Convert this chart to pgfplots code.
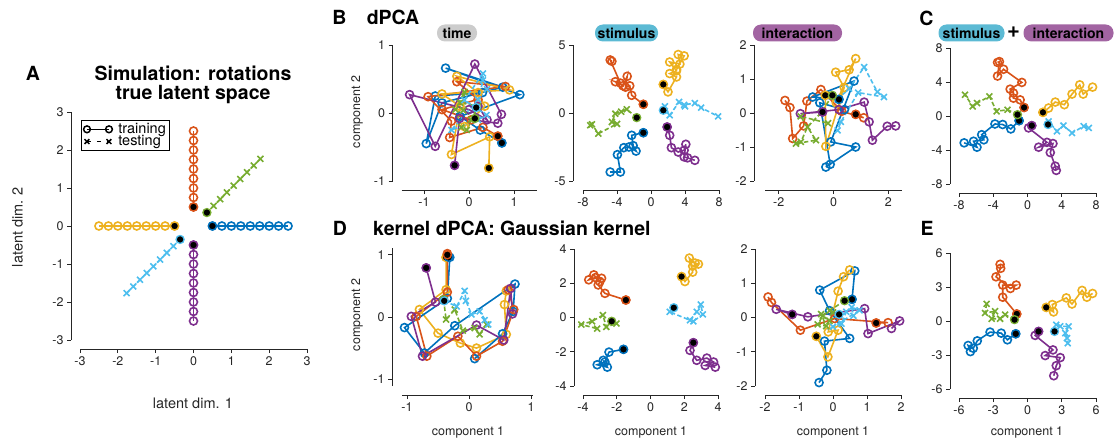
\documentclass[border=0pt]{standalone}
\usepackage{pgfplots}
\pgfplotsset{compat=1.18}
\usepackage{fontspec}
\setmainfont{TeX Gyre Heros}
\definecolor{cB}{RGB}{0,114,189}
\definecolor{cO}{RGB}{217,83,25}
\definecolor{cY}{RGB}{237,177,32}
\definecolor{cP}{RGB}{126,47,142}
\definecolor{cG}{RGB}{119,172,48}
\definecolor{cL}{RGB}{77,190,238}
\definecolor{axg}{RGB}{38,38,38}
\definecolor{boxT}{RGB}{204,204,204}
\definecolor{boxS}{RGB}{92,186,212}
\definecolor{boxI}{RGB}{162,100,162}
\pgfplotsset{
 base/.style={scale only axis, anchor=south west, axis lines=left,
   axis line style={-, line width=0.9pt, draw=axg},
   every outer x axis line/.append style={-}, every outer y axis line/.append style={-},
   tick align=outside, major tick length=4pt, tick style={line width=0.9pt, draw=axg},
   tick label style={font=\fontsize{12.5}{13}\selectfont, text=axg},
   /pgf/number format/assume math mode=true, clip=false,
   axis x line shift=9pt, axis y line shift=9pt},
 tr/.style={color=#1, line width=1.6pt, mark=o, mark size=4pt, mark options={solid}},
 te/.style={color=#1, line width=1.6pt, dash pattern=on 4.5pt off 2.5pt, mark=x, mark size=4.2pt, mark options={solid}},
 st/.style={only marks, mark=*, mark size=4pt, mark options={fill=black, draw=#1, line width=1.3pt, solid}},
 twoend/.style={legend image code/.code={\draw[##1, mark repeat=1] plot coordinates {(0pt,0pt) (22pt,0pt)};}},
}
\begin{document}
\begin{tikzpicture}[x=1pt,y=1pt]
\useasboundingbox (0,0) rectangle (1114,445);

% ---------------- Panel A ----------------
\begin{axis}[base, at={(80pt,105pt)}, width=227pt, height=228pt,
  xmin=-3, xmax=3, ymin=-3, ymax=3, xtick={-3,...,3}, ytick={-3,...,3},
  legend style={at={(axis cs:-2.97,2.79)}, anchor=north west, draw=black, line width=0.9pt,
    font=\fontsize{14.5}{13}\selectfont, inner sep=2pt, row sep=-1.5pt, legend cell align=left,
    nodes={inner xsep=2pt, inner ysep=1pt},
    /tikz/every odd column/.append style={column sep=4pt}}]
\addlegendimage{black, line width=1.5pt, mark=o, mark size=3.4pt, twoend}
\addlegendimage{black, line width=1.5pt, dash pattern=on 4pt off 6pt, mark=x, mark size=3.4pt, mark options={solid}, twoend}
\legend{training, testing}
\addplot[tr=cB] coordinates {(0.5,0) (0.75,0) (1,0) (1.25,0) (1.5,0) (1.75,0) (2,0) (2.25,0) (2.5,0)};
\addplot[tr=cO] coordinates {(0,0.5) (0,0.75) (0,1) (0,1.25) (0,1.5) (0,1.75) (0,2) (0,2.25) (0,2.5)};
\addplot[tr=cY] coordinates {(-0.5,0) (-0.75,0) (-1,0) (-1.25,0) (-1.5,0) (-1.75,0) (-2,0) (-2.25,0) (-2.5,0)};
\addplot[tr=cP] coordinates {(0,-0.5) (0,-0.75) (0,-1) (0,-1.25) (0,-1.5) (0,-1.75) (0,-2) (0,-2.25) (0,-2.5)};
\addplot[te=cG] coordinates {(0.354,0.354) (0.530,0.530) (0.707,0.707) (0.884,0.884) (1.061,1.061) (1.237,1.237) (1.414,1.414) (1.591,1.591) (1.768,1.768)};
\addplot[te=cL] coordinates {(-0.354,-0.354) (-0.530,-0.530) (-0.707,-0.707) (-0.884,-0.884) (-1.061,-1.061) (-1.237,-1.237) (-1.414,-1.414) (-1.591,-1.591) (-1.768,-1.768)};
\addplot[st=cB] coordinates {(0.5,0)};
\addplot[st=cO] coordinates {(0,0.5)};
\addplot[st=cY] coordinates {(-0.5,0)};
\addplot[st=cP] coordinates {(0,-0.5)};
\addplot[st=cG] coordinates {(0.354,0.354)};
\addplot[st=cL] coordinates {(-0.354,-0.354)};
\end{axis}

% ---------------- Panel B: time ----------------
\begin{axis}[base, at={(401.5pt,264pt)}, width=135pt, height=136pt,
  xmin=-1.5, xmax=1.5, ymin=-1, ymax=1, xtick={-1,0,1}, ytick={-1,0,1}]
\addplot[tr=cB] coordinates {(0.73,-0.44) (0.25,-0.25) (-0.2,-0.05) (1.13,0.27) (-0.52,0.66) (0.75,0.38) (-0.6,0.15) (-0.95,-0.45) (-0.75,0.25) (0.3,0.3)};
\addplot[tr=cO] coordinates {(0.64,-0.34) (0.31,-0.21) (-0.43,-0.36) (-0.39,-0.12) (-0.91,0.24) (0.81,0.39) (-0.27,0.46) (0.2,0.2) (-0.6,0.05) (0.05,-0.1)};
\addplot[tr=cY] coordinates {(0.44,-0.81) (0.46,-0.35) (-0.39,-0.61) (-0.2,0.1) (-0.6,0.28) (0.9,0.34) (-0.27,0.54) (0.2,0.3) (0.35,0.1) (-0.1,-0.2)};
\addplot[tr=cP] coordinates {(-0.32,-0.77) (-0.21,-0.08) (0.64,-0.15) (0.72,-0.02) (0.13,0.72) (-0.75,-0.49) (-1.32,0.27) (0.0,0.05) (0.4,-0.1) (0.2,0.1)};
\addplot[te=cG] coordinates {(0.13,-0.08) (-0.13,0.04) (-0.1,0.31) (-0.3,0.05) (-0.17,-0.21) (0.05,-0.1) (-0.05,-0.25) (0.2,0.1) (-0.2,0.15)};
\addplot[te=cL] coordinates {(0.16,0.08) (0.31,0.48) (0.31,0.58) (-0.1,0.19) (0.39,-0.03) (0.2,-0.1) (-0.39,-0.25) (0.2,0.2) (0.4,0.35)};
\addplot[st=cB] coordinates {(0.73,-0.44)};
\addplot[st=cO] coordinates {(0.64,-0.34)};
\addplot[st=cY] coordinates {(0.44,-0.81)};
\addplot[st=cP] coordinates {(-0.32,-0.77)};
\addplot[st=cG] coordinates {(0.13,-0.08)};
\addplot[st=cL] coordinates {(0.16,0.08)};
\end{axis}

% ---------------- Panel B: stimulus ----------------
\begin{axis}[base, at={(583pt,264pt)}, width=136pt, height=136pt, axis y line shift=10pt,
  xmin=-8, xmax=8, ymin=-5, ymax=5, xtick={-8,-4,0,4,8}, ytick={-5,0,5}]
\addplot[tr=cO] coordinates {(-0.9,0.64) (-2.27,1.3) (-2.5,2.0) (-3.0,1.9) (-2.8,2.7) (-3.3,2.0) (-4.2,2.3) (-3.6,2.2) (-4.8,3.9) (-4.6,3.8)};
\addplot[tr=cY] coordinates {(1.45,2.1) (2.0,1.55) (3.0,2.65) (2.2,2.9) (3.0,3.1) (2.2,3.75) (3.4,3.6) (3.2,4.3) (3.9,4.2) (3.0,3.2)};
\addplot[tr=cB] coordinates {(-0.9,-1.45) (-2.27,-1.64) (-2.1,-2.4) (-1.76,-2.8) (-2.6,-2.5) (-3.2,-2.55) (-3.95,-3.06) (-3.6,-4.34) (-4.8,-4.34)};
\addplot[tr=cP] coordinates {(1.9,-1.03) (2.2,-1.64) (2.4,-2.55) (3.2,-2.87) (3.9,-2.74) (4.1,-2.3) (3.9,-3.23) (4.3,-3.3) (5.16,-3.48)};
\addplot[te=cG] coordinates {(-1.68,-0.34) (-2.85,0.27) (-3.5,0.1) (-4.2,-0.05) (-4.6,-0.66) (-4.0,-0.8) (-6.2,-1.52) (-6.95,-0.83) (-7.15,-0.9)};
\addplot[te=cL] coordinates {(1.45,0.2) (1.64,0.49) (2.2,-0.17) (3.3,0.81) (4.0,0.49) (3.9,0.6) (5.16,0.73) (5.9,0.39) (7.9,-0.25)};
\addplot[st=cO] coordinates {(-0.9,0.64)};
\addplot[st=cY] coordinates {(1.45,2.1)};
\addplot[st=cB] coordinates {(-0.9,-1.45)};
\addplot[st=cP] coordinates {(1.9,-1.03)};
\addplot[st=cG] coordinates {(-1.68,-0.34)};
\addplot[st=cL] coordinates {(1.45,0.2)};
\end{axis}

% ---------------- Panel B: interaction ----------------
\begin{axis}[base, at={(765pt,264pt)}, width=137pt, height=136pt, axis y line shift=11pt,
  xmin=-2.5, xmax=2.5, ymin=-2, ymax=2, xtick={-2,0,2}, ytick={-2,-1,0,1,2}]
\addplot[tr=cO] coordinates {(0.81,-0.04) (1.1,-0.14) (0.3,0.05) (-0.46,0.69) (-0.97,0.35) (-1.09,-0.38) (-1.49,-0.75) (-1.59,0.16) (-1.77,0.37)};
\addplot[tr=cB] coordinates {(0.2,0.4) (-0.76,0.47) (0.75,0.94) (-0.1,-0.85) (0.81,-1.0) (-0.28,-1.59) (-0.12,-1.51) (-0.5,0.3) (0.4,0.1)};
\addplot[tr=cY] coordinates {(-0.3,0.52) (-0.28,-0.98) (0.39,0.75) (0.08,1.2) (0.57,1.27) (0.81,1.6) (0.1,0.3)};
\addplot[tr=cP] coordinates {(-0.4,0.03) (-1.21,-0.02) (0.2,0.1) (1.12,0.32) (1.3,-0.26) (1.42,-0.8) (1.96,-0.39) (2.27,-0.38)};
\addplot[te=cG] coordinates {(-0.04,0.52) (-0.46,0) (-0.95,-0.41) (-1.19,-0.85) (-1.37,-0.9) (-0.64,-0.8) (-1.2,-0.1) (-0.2,-0.3)};
\addplot[te=cL] coordinates {(0.15,0.4) (0.57,0.72) (1.12,1.35) (1.6,0.62) (1.84,0.47) (0.9,0.6) (0.27,-0.26) (0.15,-0.51)};
\addplot[st=cO] coordinates {(0.81,-0.04)};
\addplot[st=cB] coordinates {(0.2,0.4)};
\addplot[st=cY] coordinates {(-0.3,0.52)};
\addplot[st=cP] coordinates {(-0.4,0.03)};
\addplot[st=cG] coordinates {(-0.04,0.52)};
\end{axis}

% ---------------- Panel C ----------------
\begin{axis}[base, at={(959pt,261pt)}, width=137pt, height=136pt,
  xmin=-8, xmax=8, ymin=-8, ymax=8, xtick={-8,-4,0,4,8}, ytick={-8,-4,0,4,8}]
\addplot[tr=cO] coordinates {(-0.4,1.0) (-0.86,1.9) (-1.64,2.1) (-1.64,2.7) (-2.03,3.16) (-0.66,3.95) (-2.8,5.5) (-3.5,4.7) (-3.28,6.4) (-3.5,6.3)};
\addplot[tr=cY] coordinates {(1.8,0.43) (2.46,0.94) (3.24,1.64) (4.3,1.33) (5.2,2.58) (6.1,3.67) (6.5,2.58) (7.6,3.4)};
\addplot[tr=cB] coordinates {(-0.98,-0.55) (-1.95,-1.52) (-2.9,-1.0) (-3.8,-0.94) (-5.35,-2.2) (-5.1,-2.8) (-6.3,-2.97) (-5.9,-3.67) (-7.4,-3.16)};
\addplot[tr=cP] coordinates {(0.5,-1.13) (0.12,-1.4) (2.27,-3.1) (1.3,-3.67) (2.97,-3.24) (2.66,-4.3) (3.24,-5.9) (3.36,-6.4)};
\addplot[te=cG] coordinates {(-1.17,0.16) (-2.34,0.74) (-3.6,0.55) (-4.45,2.3) (-5.9,1.52) (-6.4,1.13) (-7.3,2.5)};
\addplot[te=cL] coordinates {(2.4,-1.0) (2.46,-0.63) (3.44,-1.8) (4.2,-1.13) (5.2,-2.0) (6.56,-1.2) (7.15,-1.4)};
\addplot[st=cO] coordinates {(-0.4,1.0)};
\addplot[st=cY] coordinates {(1.8,0.43)};
\addplot[st=cB] coordinates {(-0.98,-0.55)};
\addplot[st=cP] coordinates {(0.5,-1.13)};
\addplot[st=cG] coordinates {(-1.17,0.16)};
\addplot[st=cL] coordinates {(2.4,-1.0)};
\end{axis}

% ---------------- Panel D: time ----------------
\begin{axis}[base, at={(402pt,59pt)}, width=131pt, height=138pt, axis y line shift=10pt,
  xmin=-1.08, xmax=1.03, ymin=-1.11, ymax=1.11, xtick={-1,0,1}, ytick={-1,0,1}]
\addplot[tr=cY] coordinates {(-0.37,0.96) (-0.37,0.44) (-0.8,0.12) (-0.5,-0.26) (-0.14,-0.42) (0.12,-0.5) (0.6,-0.28) (0.57,0.2) (0.6,0.42)};
\addplot[tr=cB] coordinates {(-0.31,0.96) (-0.35,0.3) (-1.04,-0.17) (-0.72,-0.58) (-0.23,-0.14) (0.74,0.53) (0.71,0.09) (0.54,-0.27) (0.09,-0.67)};
\addplot[tr=cO] coordinates {(-0.35,1.02) (-0.35,0.4) (-0.85,0.01) (-0.68,-0.63) (-0.18,-0.31) (0.12,-0.63) (0.54,-0.39) (0.72,0.12) (0.63,0.44)};
\addplot[tr=cP] coordinates {(-0.69,0.79) (-0.54,0.24) (-0.93,0.01) (-0.75,-0.63) (0.12,-0.13) (0.56,-0.37) (0.67,0.46) (0.7,0.05)};
\addplot[te=cG] coordinates {(-0.41,0.28) (-0.37,-0.04) (-0.23,0.12) (-0.1,-0.22) (0.09,-0.18) (0.17,-0.28) (0.28,-0.12)};
\addplot[te=cL] coordinates {(-0.4,0.26) (-0.2,0.17) (-0.07,0.42) (-0.05,0.26) (0.04,0.04) (0.17,0.09) (0.31,-0.12) (0.25,-0.05)};
\addplot[st=cY] coordinates {(-0.37,0.96)};
\addplot[st=cB] coordinates {(-0.33,0.96)};
\addplot[st=cO] coordinates {(-0.35,1.0)};
\addplot[st=cP] coordinates {(-0.69,0.79)};
\addplot[st=cG] coordinates {(-0.41,0.28)};
\addplot[st=cL] coordinates {(-0.4,0.26)};
\end{axis}

% ---------------- Panel D: stimulus ----------------
\begin{axis}[base, at={(583pt,59pt)}, width=135pt, height=137pt,
  xmin=-4, xmax=4, ymin=-4, ymax=4, xtick={-4,-2,0,2,4}, ytick={-4,-2,0,2,4}]
\addplot[tr=cO] coordinates {(-1.46,1.02) (-2.7,1.41) (-3.1,1.9) (-2.9,2.29) (-3.26,2.33) (-3.66,2.2) (-3.36,2.49) (-3.0,2.1)};
\addplot[tr=cY] coordinates {(1.84,2.39) (2.04,2.1) (2.5,2.65) (2.3,3.47) (2.64,3.18) (2.84,3.12) (2.5,3.0)};
\addplot[tr=cB] coordinates {(-1.6,-1.86) (-2.46,-2.02) (-2.7,-2.6) (-3.16,-2.76) (-2.56,-2.9) (-2.8,-2.5)};
\addplot[tr=cP] coordinates {(2.54,-1.47) (2.34,-1.92) (2.74,-2.5) (3.34,-2.37) (3.74,-2.6) (3.24,-2.8) (3.84,-2.9)};
\addplot[te=cG] coordinates {(-2.3,-0.22) (-2.02,-0.35) (-2.62,-0.55) (-2.82,0.14) (-3.46,-0.22) (-4.1,-0.41) (-3.16,-0.65)};
\addplot[te=cL] coordinates {(1.38,0.57) (1.14,0.33) (2.34,-0.16) (2.74,0.33) (2.98,0.76) (3.1,0.18) (2.54,-0.22)};
\addplot[st=cO] coordinates {(-1.46,1.02)};
\addplot[st=cY] coordinates {(1.84,2.39)};
\addplot[st=cB] coordinates {(-1.6,-1.86)};
\addplot[st=cP] coordinates {(2.54,-1.47)};
\addplot[st=cG] coordinates {(-2.3,-0.22)};
\addplot[st=cL] coordinates {(1.38,0.57)};
\end{axis}

% ---------------- Panel D: interaction ----------------
\begin{axis}[base, at={(765pt,59pt)}, width=136pt, height=137pt, axis y line shift=10pt,
  xmin=-2, xmax=2, ymin=-2, ymax=2, xtick={-2,-1,0,1,2}, ytick={-2,-1,0,1,2}]
\addplot[tr=cB] coordinates {(0.56,0.53) (0.64,1.36) (-0.39,0.8) (-0.1,0.2) (0.49,-0.61) (-0.25,-0.69) (-0.18,-1.54) (-0.41,-1.9)};
\addplot[tr=cY] coordinates {(-0.49,-0.55) (-0.15,-1.15) (0.15,-0.37) (-0.14,-0.42) (0.15,0.77) (0.31,1.19) (0.49,1.39)};
\addplot[tr=cO] coordinates {(1.27,-0.16) (1.62,-0.15) (0.05,-0.03) (-0.96,-0.37) (-1.81,0.44) (-1.91,0.6)};
\addplot[tr=cP] coordinates {(-1.2,0.09) (-1.67,0.24) (-0.74,0.02) (0.93,0.26) (1.03,-0.47) (1.96,-0.1) (1.72,-0.32)};
\addplot[te=cG] coordinates {(0.34,0.49) (-0.1,0.2) (-0.3,0.05) (-0.45,-0.2) (-0.2,-0.25) (-0.35,0.1) (-0.1,-0.1) (0.0,0.15)};
\addplot[te=cL] coordinates {(0.18,0.09) (0.39,0.17) (0.25,-0.18) (0,-0.27) (0.78,0.21) (0.55,0.3) (0.6,0.05)};
\addplot[st=cB] coordinates {(0.56,0.53)};
\addplot[st=cY] coordinates {(-0.49,-0.55)};
\addplot[st=cO] coordinates {(1.27,-0.16)};
\addplot[st=cP] coordinates {(-1.2,0.09)};
\addplot[st=cG] coordinates {(0.34,0.49)};
\addplot[st=cL] coordinates {(0.18,0.09)};
\end{axis}

% ---------------- Panel E ----------------
\begin{axis}[base, at={(959pt,56pt)}, width=137pt, height=136pt,
  xmin=-6, xmax=6, ymin=-6, ymax=6, xtick={-6,-3,0,3,6}, ytick={-6,-3,0,3,6}]
\addplot[tr=cO] coordinates {(-0.94,0.62) (-2.17,2.1) (-2.17,3.17) (-0.99,3.17) (-1.5,2.87) (-2.76,3.9) (-2.35,4.65) (-2.4,5.0)};
\addplot[tr=cY] coordinates {(1.64,1.2) (2.28,0.8) (2.17,1.45) (3.4,2.04) (3.9,1.5) (4.78,2.7) (5.2,2.1) (5.7,2.43)};
\addplot[tr=cB] coordinates {(-1.03,-1.13) (-1.76,-1.66) (-2.3,-1.07) (-3.28,-0.98) (-4.4,-1.75) (-4.75,-2.4) (-5.2,-2.16) (-5.0,-2.7)};
\addplot[tr=cP] coordinates {(0.97,-0.92) (0.67,-1.27) (2.23,-2.55) (1.55,-3.05) (2.87,-3.23) (2.52,-3.94) (2.3,-4.83)};
\addplot[te=cG] coordinates {(-1.14,0.12) (-1.96,0.56) (-2.4,0.2) (-3.14,0.2) (-2.84,0.86) (-3.72,0.71) (-3.58,1.51)};
\addplot[te=cL] coordinates {(2.37,-0.92) (2.52,-0.33) (2.87,-0.47) (3.6,-0.47) (3.31,-1.07) (3.46,-1.51) (3.52,-1.96)};
\addplot[st=cO] coordinates {(-0.94,0.62)};
\addplot[st=cY] coordinates {(1.64,1.2)};
\addplot[st=cB] coordinates {(-1.03,-1.13)};
\addplot[st=cP] coordinates {(0.97,-0.92)};
\addplot[st=cG] coordinates {(-1.14,0.12)};
\addplot[st=cL] coordinates {(2.37,-0.92)};
\end{axis}

% ---------------- texts ----------------
\tikzset{pl/.style={font=\bfseries\fontsize{19.5}{20}\selectfont, inner sep=0pt},
         bx/.style={font=\bfseries\fontsize{14}{14}\selectfont, rounded corners=8pt, minimum height=17pt, inner xsep=2pt, inner ysep=0pt},
         lab/.style={font=\fontsize{12.5}{13}\selectfont, text=axg}}
\node[pl] at (33,372) {A};
\node[pl] at (193,372) {Simulation: rotations};
\node[pl] at (193,350) {true latent space};
\node[font=\fontsize{14.5}{15}\selectfont, text=axg] at (193,42) {latent dim. 1};
\node[font=\fontsize{14.5}{15}\selectfont, text=axg, rotate=90] at (17.5,218) {latent dim. 2};

\node[pl] at (339.5,428) {B};
\node[pl] at (393,428) {dPCA};
\node[bx, fill=boxT, minimum width=40pt] at (457,412) {time};
\node[bx, fill=boxS, minimum width=63pt] at (626.5,412) {stimulus};
\node[bx, fill=boxI, minimum width=89pt] at (797.5,412) {interaction};
\node[pl] at (926.5,427) {C};
\node[bx, fill=boxS, minimum width=66pt] at (971.5,412) {stimulus};
\node[font=\bfseries\fontsize{22}{22}\selectfont] at (1013.5,413) {+};
\node[bx, fill=boxI, minimum width=90pt] at (1068.5,412) {interaction};

\node[pl] at (340,217) {D};
\node[pl, anchor=west] at (373,217) {kernel dPCA: Gaussian kernel};
\node[pl] at (927,217) {E};

\node[lab, rotate=90] at (357,333) {component 2};
\node[lab, rotate=90] at (357,130) {component 2};
\node[lab] at (468,13) {component 1};
\node[lab] at (651,13) {component 1};
\node[lab] at (833,13) {component 1};
\node[lab] at (1027,13) {component 1};
\end{tikzpicture}
\end{document}
